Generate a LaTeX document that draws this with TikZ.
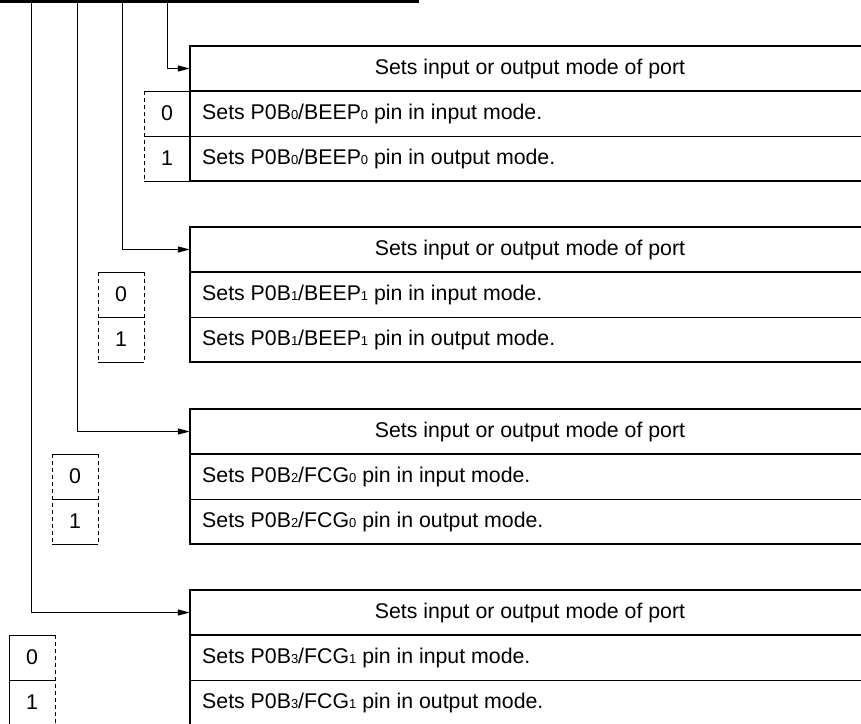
\documentclass[tikz,border=0pt]{standalone}
\usepackage{fontspec}
\setmainfont{Liberation Sans}
\usetikzlibrary{arrows.meta}
\newcommand{\lsub}[1]{\raisebox{-0.6pt}{\fontsize{13}{13}\selectfont #1}}
\tikzset{
  txt/.style={font=\fontsize{21.3}{25}\selectfont, inner sep=0pt},
  conn/.style={line width=1pt, -{Triangle[length=12pt,width=6pt]}},
  thickln/.style={line width=2.2pt},
  thinln/.style={line width=1pt},
  dashln/.style={line width=0.9pt, dash pattern=on 4pt off 3pt}
}
\begin{document}
\begin{tikzpicture}[x=1pt,y=-1pt]
\useasboundingbox (0,0) rectangle (861,723);
\clip (0,0) rectangle (861,723);
% top register line
\coordinate (tl) at (0,1);
\coordinate (tr) at (419,1);
\draw[line width=3pt] (tl) -- (tr);
\coordinate (t0) at (167,1);
\coordinate (t1) at (122,1);
\coordinate (t2) at (77,1);
\coordinate (t3) at (31,1);

\foreach \i/\ty/\bl/\br/\nm/\ls/\rs in {
  0/46/144/190/BEEP\lsub{0}/dashln/thinln,
  1/227/98/144/BEEP\lsub{1}/dashln/dashln,
  2/409/52/98/FCG\lsub{0}/dashln/dashln,
  3/590/9/55/FCG\lsub{1}/thinln/dashln}{
  % table
  \node[txt, draw=none, minimum width=680pt, minimum height=45pt] (h\i) at (530,\ty+22.5) {Sets input or output mode of port};
  \draw[thickln] (190,\ty) rectangle (870,\ty+135);
  \draw[thickln] (190,\ty+45) -- (870,\ty+45);
  \draw[thinln] (190,\ty+90) -- (870,\ty+90);
  \node[txt, anchor=west] (ra\i) at (202,\ty+67.5) {Sets P0B\lsub{\i}/\nm\ pin in input mode.};
  \node[txt, anchor=west] (rb\i) at (202,\ty+112.5) {Sets P0B\lsub{\i}/\nm\ pin in output mode.};
  % bit box
  \draw[thinln] (\bl,\ty+45) -- (\br,\ty+45);
  \draw[thinln] (\bl,\ty+90) -- (\br,\ty+90);
  \draw[thinln] (\bl,\ty+135) -- (\br,\ty+135);
  \draw[\ls] (\bl,\ty+45) -- (\bl,\ty+135);
  \draw[\rs] (\br,\ty+45) -- (\br,\ty+135);
  \node[txt] (ba\i) at ({(\bl+\br)/2},\ty+67.5) {0};
  \node[txt] (bb\i) at ({(\bl+\br)/2},\ty+112.5) {1};
  % connector
  \draw[conn] (t\i) |- (h\i.west);
}
\end{tikzpicture}
\end{document}
